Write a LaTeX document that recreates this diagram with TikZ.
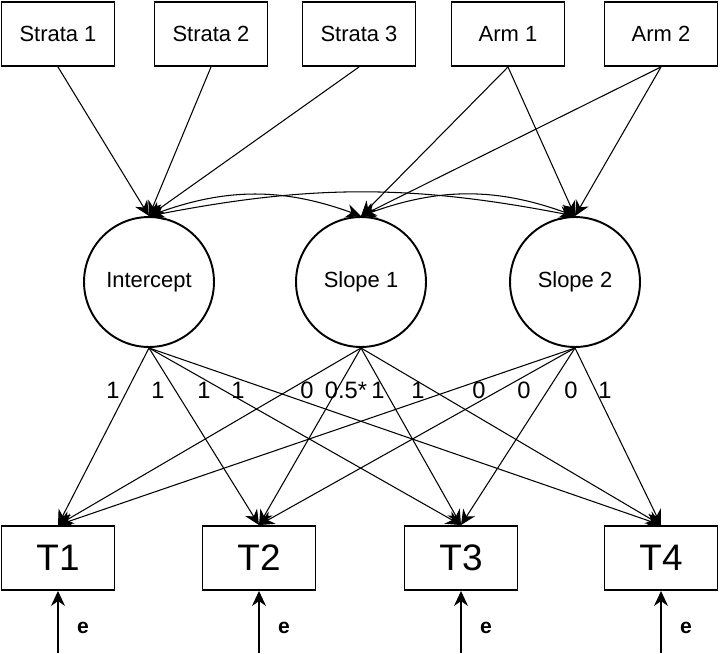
\documentclass[tikz,border=0pt]{standalone}
\usepackage{fontspec}
\setmainfont{Liberation Sans}
\usetikzlibrary{arrows.meta}

\tikzset{
  box/.style={draw, line width=1.1pt, rectangle, inner sep=0pt, minimum width=2.26cm, minimum height=1.28cm},
  latent/.style={draw, line width=1.1pt, circle, inner sep=0pt, minimum size=2.6cm},
  path/.style={line width=0.6pt, -{Stealth[length=3mm, width=2.8mm]}},
  cov/.style={line width=0.6pt, {Stealth[length=3mm, width=2.8mm]}-{Stealth[length=3mm, width=2.8mm]}},
  load/.style={font=\fontsize{13.5}{14}\selectfont}
}

\begin{document}
\begin{tikzpicture}[x=0.02cm, y=-0.02cm]
\useasboundingbox (0,0) rectangle (720,653);

% covariates
\node[box, font=\fontsize{12.5}{13}\selectfont] (s1) at (58,34) {Strata 1};
\node[box, font=\fontsize{12.5}{13}\selectfont] (s2) at (211,34) {Strata 2};
\node[box, font=\fontsize{12.5}{13}\selectfont] (s3) at (359,34) {Strata 3};
\node[box, font=\fontsize{12.5}{13}\selectfont] (a1) at (508,34) {Arm 1};
\node[box, font=\fontsize{12.5}{13}\selectfont] (a2) at (661,34) {Arm 2};

% growth factors
\node[latent, font=\fontsize{12.5}{13}\selectfont] (int) at (149,282) {Intercept};
\node[latent, font=\fontsize{12.5}{13}\selectfont] (sl1) at (361,282) {Slope 1};
\node[latent, font=\fontsize{12.5}{13}\selectfont] (sl2) at (575,282) {Slope 2};

% time points
\node[box, font=\fontsize{21}{22}\selectfont] (t1) at (58,558) {T1};
\node[box, font=\fontsize{21}{22}\selectfont] (t2) at (259,558) {T2};
\node[box, font=\fontsize{21}{22}\selectfont] (t3) at (461,558) {T3};
\node[box, font=\fontsize{21}{22}\selectfont] (t4) at (661,558) {T4};

% regressions on covariates
\draw[path] (s1.south) -- (int.north);
\draw[path] (s2.south) -- (int.north);
\draw[path] (s3.south) -- (int.north);
\draw[path] (a1.south) -- (sl1.north);
\draw[path] (a1.south) -- (sl2.north);
\draw[path] (a2.south) -- (sl1.north);
\draw[path] (a2.south) -- (sl2.north);

% covariances
\draw[cov] (int.north) to[bend left=20] (sl1.north);
\draw[cov] (int.north) to[bend left=11] (sl2.north);
\draw[cov] (sl1.north) to[bend left=20] (sl2.north);

% loadings
\foreach \f in {int,sl1,sl2}
  \foreach \t in {t1,t2,t3,t4}
    \draw[path] (\f.south) -- (\t.north);

\node[load] (l1) at (113,390) {1};
\node[load] (l2) at (158,390) {1};
\node[load] (l3) at (204,390) {1};
\node[load] (l4) at (238,390) {1};
\node[load] (l5) at (307,390) {0};
\node[load] (l6) at (346,390) {0.5*};
\node[load] (l7) at (378,390) {1};
\node[load] (l8) at (418,390) {1};
\node[load] (l9) at (479,390) {0};
\node[load] (l10) at (524,390) {0};
\node[load] (l11) at (571,390) {0};
\node[load] (l12) at (605,390) {1};

% residuals
\coordinate (e1) at (58,653);
\coordinate (e2) at (259,653);
\coordinate (e3) at (461,653);
\coordinate (e4) at (661,653);
\draw[path] (e1) -- (t1.south);
\draw[path] (e2) -- (t2.south);
\draw[path] (e3) -- (t3.south);
\draw[path] (e4) -- (t4.south);
\node[font=\fontsize{12}{12}\selectfont\bfseries] (r1) at (83,628) {e};
\node[font=\fontsize{12}{12}\selectfont\bfseries] (r2) at (284,628) {e};
\node[font=\fontsize{12}{12}\selectfont\bfseries] (r3) at (486,628) {e};
\node[font=\fontsize{12}{12}\selectfont\bfseries] (r4) at (686,628) {e};

\end{tikzpicture}
\end{document}
